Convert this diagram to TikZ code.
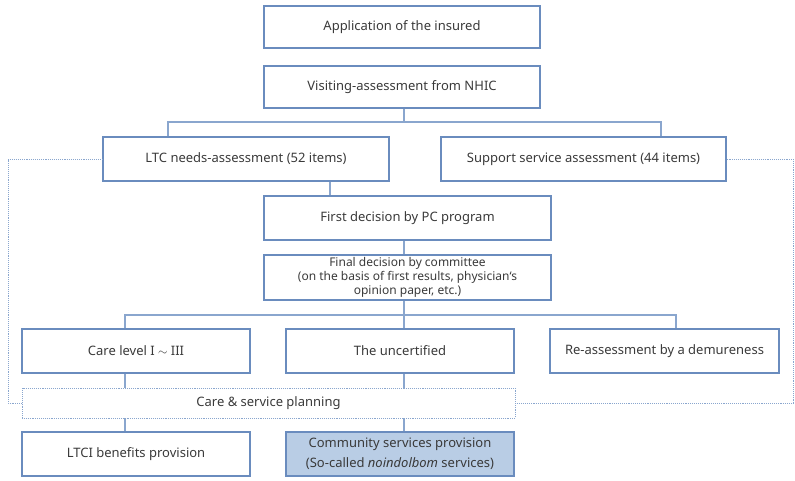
\documentclass[tikz,border=0pt]{standalone}
\usepackage{fontspec}
\setmainfont{Noto Sans}
\usetikzlibrary{positioning,calc}
\definecolor{boxline}{HTML}{6A8CBE}
\definecolor{linkline}{HTML}{8AA6CE}
\definecolor{commfill}{HTML}{B9CDE5}
\definecolor{txtgray}{HTML}{3A3A3A}

\tikzset{
  box/.style={draw=boxline, line width=1.2pt, rectangle, minimum height=44pt, inner sep=2pt, text=txtgray, font=\fontsize{13}{16}\selectfont, align=center},
  link/.style={draw=linkline, line width=1.2pt},
  dotlink/.style={draw=linkline, line width=0.9pt, densely dotted},
}

\begin{document}
\begin{tikzpicture}[x=1pt,y=-1pt]
            \useasboundingbox (0,0) rectangle (795,481);
            % Top of the flow
            \node[box, minimum width=276pt, minimum height=42pt] (app) at (402,27) {Application of the insured};
            \node[box, minimum width=276pt, minimum height=42pt] (visit) at (402,87) {Visiting-assessment from NHIC};
            
            % Two assessments
            \node[box, minimum width=286pt] (needs) at (246,159) {LTC needs-assessment (52 items)};
            \node[box, minimum width=285pt] (support) at (583.5,159) {Support service assessment (44 items)};
            
            % Decisions
            \node[box, minimum width=287pt] (first) at (407.5,218) {First decision by PC program};
            \node[box, minimum width=287pt, minimum height=45pt, inner sep=1pt, font=\fontsize{12}{14}\selectfont] (final) at (407.5,277.5) {Final decision by committee\\(on the basis of first results, physician`s\\opinion paper, etc.)};
            
            % Results
            \node[box, minimum width=228pt] (care) at (136,351) {Care level I $\sim$ III};
            \node[box, minimum width=228pt] (uncert) at (400,351) {The uncertified};
            \node[box, minimum width=229pt] (reass) at (664.5,351) {Re-assessment by a demureness};
            
            % Planning and provision
            \node[box, minimum width=493pt, minimum height=30pt, draw=linkline, line width=0.9pt, densely dotted] (plan) at (268.5,403) {Care \& service planning};
            \node[box, minimum width=228pt] (ltci) at (136,454) {LTCI benefits provision};
            \node[box, minimum width=228pt, fill=commfill] (comm) at (400,454) {Community services provision\\[4pt](So-called \textit{noindolbom} services)};
            
            % Bus points
            \coordinate (busA) at (404,122);
            \coordinate (busAl) at (168,122);
            \coordinate (busAr) at (661,122);
            \coordinate (midL) at (330,190);
            \coordinate (busB) at (404,315);
            \coordinate (busBl) at (125,315);
            \coordinate (busBr) at (676,315);
            \coordinate (dotL) at (8,403);
            \coordinate (dotR) at (793,403);
            
            \draw[link] (visit.south -| busA) -- (busA);
            \draw[link] (needs.north -| busAl) -- (busAl) -- (busAr) -- (support.north -| busAr);
            \draw[link] (needs.south -| midL) -- (first.north -| midL);
            \draw[link] (first.south -| busA) -- (final.north -| busA);
            \draw[link] (final.south -| busB) -- (busB);
            \draw[link] (care.north -| busBl) -- (busBl) -- (busBr) -- (reass.north -| busBr);
            \draw[link] (busB) -- (uncert.north -| busB);
            \draw[link] (care.south -| busBl) -- (plan.north -| busBl);
            \draw[link] (uncert.south -| busB) -- (plan.north -| busB);
            \draw[link] (plan.south -| busBl) -- (ltci.north -| busBl);
            \draw[link] (plan.south -| busB) -- (comm.north -| busB);
            
            % Dotted feedback lines
            \draw[dotlink] (needs.west) -| (dotL) -- (plan.west);
            \draw[dotlink] (support.east) -| (dotR) -- (plan.east);
        \end{tikzpicture}
\end{document}
